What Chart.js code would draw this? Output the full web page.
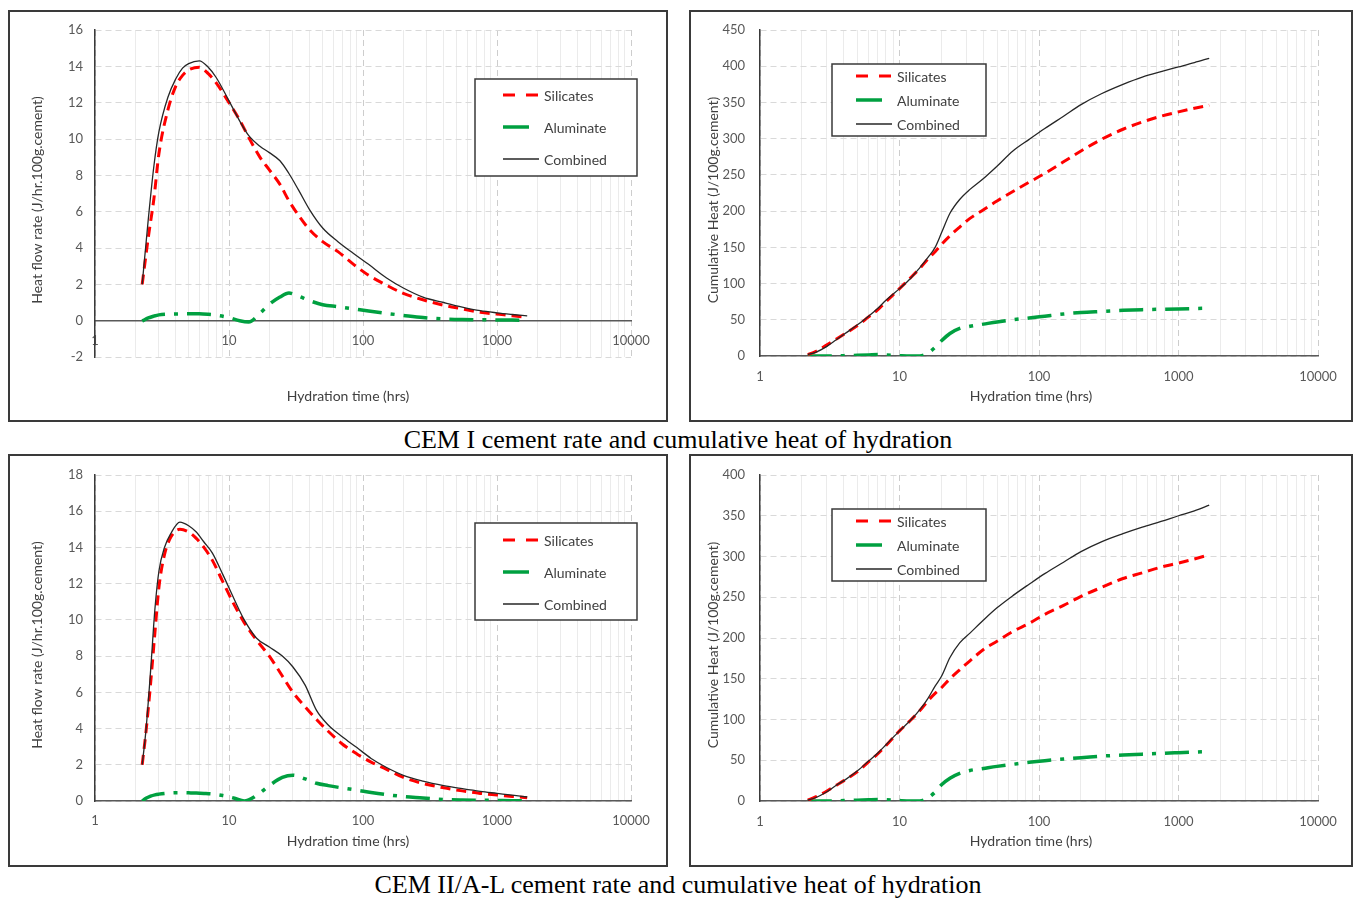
<!DOCTYPE html>
<html>
<head>
<meta charset="utf-8">
<script src="https://cdn.jsdelivr.net/npm/chart.js@4.4.1/dist/chart.umd.min.js"></script>
<style>
  html, body { margin: 0; padding: 0; background: #fff; }
  body { width: 1356px; height: 898px; position: relative; overflow: hidden; }
  .panel { position: absolute; border: 2px solid #3a3a3a; background: #fff; }
  .panel canvas { display: block; }
  .caption { position: absolute; left: 0; width: 1356px; text-align: center;
             font-family: "Liberation Serif", "Times New Roman", serif; font-size: 26px;
             line-height: 30px; color: #000; }
</style>
</head>
<body>
<div class="panel" style="left:8px;top:10px;"><canvas id="cem1Rate" width="656" height="408"></canvas></div>
<div class="panel" style="left:689px;top:10px;"><canvas id="cem1Heat" width="660" height="408"></canvas></div>
<div class="caption" style="top:425px;">CEM I cement rate and cumulative heat of hydration</div>
<div class="panel" style="left:8px;top:454px;"><canvas id="cem2Rate" width="656" height="409"></canvas></div>
<div class="panel" style="left:689px;top:454px;"><canvas id="cem2Heat" width="660" height="409"></canvas></div>
<div class="caption" style="top:870px;">CEM II/A-L cement rate and cumulative heat of hydration</div>

<script>
// ---- Data -------------------------------------------------------------
// Hydration time axis labels (log scale decades)
const timeDecades = [1, 10, 100, 1000, 10000];

// CEM I – heat flow rate (J/hr.100g.cement)
const cem1RateTime      = [2.25, 2.5, 2.75, 3, 3.5, 4, 4.5, 5, 6, 7, 8, 10, 12, 14, 17, 20, 24, 28, 33, 40, 50, 65, 85, 110, 150, 200, 280, 400, 550, 750, 1000, 1300, 1680];
const cem1RateSilicates = [2.0, 4.6, 6.7, 9.2, 11.6, 12.9, 13.5, 13.8, 13.95, 13.6, 13.1, 12.0, 11.05, 10.1, 9.0, 8.3, 7.5, 6.6, 5.8, 5.0, 4.35, 3.8, 3.1, 2.5, 1.95, 1.5, 1.15, 0.85, 0.65, 0.46, 0.36, 0.27, 0.18];
const cem1RateAluminate = [-0.02, 0.15, 0.25, 0.32, 0.36, 0.37, 0.38, 0.38, 0.38, 0.35, 0.3, 0.17, 0.0, -0.07, 0.4, 0.9, 1.3, 1.52, 1.35, 1.1, 0.88, 0.77, 0.65, 0.53, 0.4, 0.29, 0.17, 0.09, 0.06, 0.05, 0.04, 0.03, 0.02];
const cem1RateCombined  = [2.0, 5.6, 8.5, 10.4, 12.3, 13.3, 13.9, 14.15, 14.3, 13.95, 13.4, 12.1, 11.0, 10.2, 9.6, 9.25, 8.8, 8.1, 7.2, 6.1, 5.1, 4.35, 3.7, 3.1, 2.35, 1.8, 1.3, 1.0, 0.75, 0.55, 0.43, 0.34, 0.26];

// CEM I – cumulative heat (J/100g.cement)
const cem1HeatTime      = [2.2, 2.5, 3, 3.5, 4, 5, 6, 7, 8, 10, 12, 14, 16, 18, 20, 23, 27, 32, 40, 50, 65, 85, 110, 150, 200, 280, 400, 550, 750, 1000, 1300, 1660];
const cem1HeatSilicates = [2, 6, 15, 23, 30, 42, 54, 64, 75, 93, 108, 121, 134, 144, 154, 166, 178, 190, 202, 214, 227, 240, 252, 268, 283, 299, 313, 323, 331, 337, 342, 346];
const cem1HeatAluminate = [0, 0, 0, 0, 0.5, 1, 1.5, 2, 1.5, 0.5, 0, 0, 4, 12, 21, 31, 38, 41, 44, 47, 50, 52.5, 55, 58, 60, 61.5, 63, 64, 64.5, 65, 65.5, 66];
const cem1HeatCombined  = [2, 5, 13, 22, 30, 43, 55, 66, 77, 93, 107, 122, 136, 150, 170, 197, 216, 230, 245, 262, 283, 299, 314, 331, 347, 362, 375, 385, 392.5, 399, 405, 411];

// CEM II/A-L – heat flow rate (J/hr.100g.cement)
const cem2RateTime      = [2.25, 2.4, 2.6, 2.8, 3, 3.3, 3.7, 4.3, 5, 5.7, 6.5, 7.5, 9, 11, 13, 16, 20, 25, 30, 37, 45, 55, 70, 90, 115, 150, 200, 280, 400, 550, 750, 1000, 1300, 1680];
const cem2RateSilicates = [2.0, 3.8, 6.5, 9.3, 11.8, 13.6, 14.6, 15.0, 14.85, 14.5, 14.0, 13.3, 12.1, 10.8, 9.85, 8.9, 8.0, 6.9, 6.0, 5.2, 4.5, 3.85, 3.15, 2.6, 2.15, 1.75, 1.3, 0.97, 0.73, 0.56, 0.42, 0.33, 0.25, 0.18];
const cem2RateAluminate = [0, 0.15, 0.27, 0.34, 0.38, 0.42, 0.45, 0.46, 0.45, 0.44, 0.42, 0.39, 0.3, 0.15, 0.0, 0.3, 0.85, 1.3, 1.42, 1.22, 0.98, 0.85, 0.72, 0.6, 0.47, 0.35, 0.25, 0.17, 0.08, 0.05, 0.04, 0.03, 0.02, 0.0];
const cem2RateCombined  = [2.0, 3.9, 7.2, 10.6, 12.7, 14.0, 14.8, 15.4, 15.2, 14.85, 14.3, 13.7, 12.5, 11.1, 10.0, 9.0, 8.5, 8.0, 7.4, 6.4, 5.0, 4.2, 3.55, 2.95, 2.35, 1.85, 1.42, 1.1, 0.85, 0.68, 0.53, 0.42, 0.32, 0.22];

// CEM II/A-L – cumulative heat (J/100g.cement)
const cem2HeatTime      = [2.2, 2.5, 3, 3.5, 4, 5, 6, 7, 8, 10, 12, 14, 16, 18, 20, 23, 27, 32, 40, 50, 65, 85, 110, 150, 200, 280, 400, 550, 750, 1000, 1300, 1660];
const cem2HeatSilicates = [1, 5, 12, 19, 25, 36, 48, 58, 68, 86, 99, 111, 123, 132, 139, 150, 161, 172, 186, 196, 208, 218, 229, 240, 251, 262, 273, 280, 287, 292, 297, 302];
const cem2HeatAluminate = [0, 0, 0, 0, 0.5, 1, 1.5, 1.8, 1.5, 0.5, 0, 0, 4, 11, 20, 28, 34, 37.5, 40, 42.5, 45, 47.5, 49.5, 51.5, 53, 55, 56.5, 57.5, 58.5, 59.3, 60, 60.6];
const cem2HeatCombined  = [1, 4, 11, 19, 25, 37, 49, 59, 69, 86, 99, 112, 126, 141, 153, 176, 194, 206, 222, 237, 252, 266, 279, 293, 306, 318, 328, 336, 343, 350, 356, 363];

// ---- Styling ----------------------------------------------------------
const FONT = 'Lato, "Open Sans", sans-serif';
const TICK_COLOR = '#595959';
const TEXT_COLOR = '#404040';

const SERIES_STYLE = {
  silicates: { color: '#ff0000', width: 3,   dash: [10, 6] },
  aluminate: { color: '#00a040', width: 3.5, dash: [24, 9, 4, 9] },
  combined:  { color: '#262626', width: 1.3, dash: [] }
};
// legend sample strokes, in dataset order
const LEGEND_SAMPLES = [
  { len: 36, dash: [12, 11] },
  { len: 26, dash: [] },
  { len: 36, dash: [] }
];

// grid positions of the log axis: 1..9 in every decade
const gridTimes = [];
timeDecades.forEach((d, i) => {
  gridTimes.push(d);
  if (i < timeDecades.length - 1) for (let m = 2; m <= 9; m++) gridTimes.push(m * d);
});
const isDecade = v => timeDecades.includes(v);

function series(times, values) {
  return times.map((t, i) => ({ x: t, y: values[i] }));
}

// boxed legend drawn inside the plot area
const boxLegend = {
  id: 'boxLegend',
  afterDatasetsDraw(chart, args, o) {
    const ctx = chart.ctx;
    ctx.save();
    ctx.fillStyle = '#ffffff';
    ctx.fillRect(o.left, o.top, o.width, o.height);
    ctx.strokeStyle = '#3a3a3a';
    ctx.lineWidth = 1.5;
    ctx.strokeRect(o.left, o.top, o.width, o.height);
    ctx.font = '14px ' + FONT;
    ctx.textAlign = 'left';
    ctx.textBaseline = 'middle';
    chart.data.datasets.forEach((ds, i) => {
      const y = o.top + o.firstRow + i * o.rowGap;
      const s = LEGEND_SAMPLES[i];
      ctx.save();
      ctx.strokeStyle = ds.borderColor;
      ctx.lineWidth = ds.borderWidth;
      ctx.setLineDash(s.dash);
      ctx.beginPath();
      ctx.moveTo(o.sampleX, y);
      ctx.lineTo(o.sampleX + s.len, y);
      ctx.stroke();
      ctx.restore();
      ctx.fillStyle = TEXT_COLOR;
      ctx.fillText(ds.label, o.textX, y + 1);
    });
    ctx.restore();
  }
};

// axis titles placed in canvas coordinates
const axisCaptions = {
  id: 'axisCaptions',
  afterDraw(chart, args, o) {
    const ctx = chart.ctx;
    ctx.save();
    ctx.fillStyle = TEXT_COLOR;
    ctx.font = '14px ' + FONT;
    ctx.textAlign = 'center';
    ctx.textBaseline = 'middle';
    ctx.fillText(o.xText, o.xTitleX, o.xTitleY);
    ctx.translate(o.yTitleX, o.yTitleY);
    ctx.rotate(-Math.PI / 2);
    ctx.fillText(o.yText, 0, 0);
    ctx.restore();
  }
};

function buildChart(id, p) {
  const datasets = [
    { label: 'Silicates', data: series(p.time, p.silicates), order: 1,
      borderColor: SERIES_STYLE.silicates.color, borderWidth: SERIES_STYLE.silicates.width, borderDash: SERIES_STYLE.silicates.dash },
    { label: 'Aluminate', data: series(p.time, p.aluminate), order: 2,
      borderColor: SERIES_STYLE.aluminate.color, borderWidth: SERIES_STYLE.aluminate.width, borderDash: SERIES_STYLE.aluminate.dash },
    { label: 'Combined', data: series(p.time, p.combined), order: 0,
      borderColor: SERIES_STYLE.combined.color, borderWidth: SERIES_STYLE.combined.width, borderDash: SERIES_STYLE.combined.dash }
  ];
  return new Chart(document.getElementById(id), {
    type: 'line',
    data: { datasets },
    options: {
      responsive: false,
      animation: false,
      devicePixelRatio: 1,
      layout: { padding: { top: p.padTop, right: p.padRight, bottom: p.padBottom, left: 0 } },
      elements: {
        point: { radius: 0, hoverRadius: 0 },
        line: { cubicInterpolationMode: 'monotone', borderCapStyle: 'butt', fill: false }
      },
      plugins: {
        legend: { display: false },
        tooltip: { enabled: false },
        title: { display: false },
        boxLegend: p.legend,
        axisCaptions: p.captions
      },
      scales: {
        x: {
          type: 'logarithmic',
          min: 1,
          max: 10000,
          position: { y: 0 },
          afterBuildTicks: s => { s.ticks = gridTimes.map(v => ({ value: v })); },
          afterFit: s => { s.paddingLeft = 0; s.paddingRight = 0; },
          ticks: {
            autoSkip: false, maxRotation: 0, minRotation: 0,
            padding: p.xLabelPad, color: TICK_COLOR,
            font: { family: FONT, size: 13 },
            callback: v => (isDecade(v) ? String(v) : '')
          },
          grid: {
            drawTicks: false,
            lineWidth: 1,
            color: c => (c.tick && isDecade(c.tick.value) ? '#cdcdcd' : '#ebebeb')
          },
          border: {
            display: true, color: '#595959', width: 1.5,
            dash: c => (c.tick && isDecade(c.tick.value) ? [6, 4] : [])
          },
          title: { display: false }
        },
        y: {
          min: p.yMin,
          max: p.yMax,
          afterFit: s => { s.width = p.yWidth; s.paddingTop = 0; s.paddingBottom = 0; },
          ticks: {
            stepSize: p.yStep, padding: p.yLabelPad, color: TICK_COLOR,
            font: { family: FONT, size: 13 }
          },
          grid: { drawTicks: false, color: '#d9d9d9', lineWidth: 1 },
          border: { display: true, color: '#3a3a3a', width: 1.5, dash: [6, 4] },
          title: { display: false }
        }
      }
    },
    plugins: [boxLegend, axisCaptions]
  });
}

const X_TITLE = 'Hydration time (hrs)';
const RATE_TITLE = 'Heat flow rate (J/hr.100g.cement)';
const HEAT_TITLE = 'Cumulative Heat (J/100g.cement)';

buildChart('cem1Rate', {
  time: cem1RateTime, silicates: cem1RateSilicates, aluminate: cem1RateAluminate, combined: cem1RateCombined,
  yMin: -2, yMax: 16, yStep: 2,
  padTop: 18, padRight: 35, padBottom: 63, yWidth: 85, yLabelPad: 12, xLabelPad: 12,
  legend: { left: 465, top: 67, width: 162, height: 97, firstRow: 16, rowGap: 32, sampleX: 493, textX: 534 },
  captions: { xText: X_TITLE, xTitleX: 338, xTitleY: 384, yText: RATE_TITLE, yTitleX: 27, yTitleY: 188 }
});

buildChart('cem1Heat', {
  time: cem1HeatTime, silicates: cem1HeatSilicates, aluminate: cem1HeatAluminate, combined: cem1HeatCombined,
  yMin: 0, yMax: 450, yStep: 50,
  padTop: 18, padRight: 33, padBottom: 64, yWidth: 69, yLabelPad: 15, xLabelPad: 13,
  legend: { left: 141, top: 52, width: 154, height: 72, firstRow: 12, rowGap: 24, sampleX: 165, textX: 206 },
  captions: { xText: X_TITLE, xTitleX: 340, xTitleY: 384, yText: HEAT_TITLE, yTitleX: 22, yTitleY: 188 }
});

buildChart('cem2Rate', {
  time: cem2RateTime, silicates: cem2RateSilicates, aluminate: cem2RateAluminate, combined: cem2RateCombined,
  yMin: 0, yMax: 18, yStep: 2,
  padTop: 19, padRight: 35, padBottom: 64, yWidth: 85, yLabelPad: 12, xLabelPad: 12,
  legend: { left: 465, top: 67, width: 162, height: 97, firstRow: 17, rowGap: 32, sampleX: 493, textX: 534 },
  captions: { xText: X_TITLE, xTitleX: 338, xTitleY: 385, yText: RATE_TITLE, yTitleX: 27, yTitleY: 189 }
});

buildChart('cem2Heat', {
  time: cem2HeatTime, silicates: cem2HeatSilicates, aluminate: cem2HeatAluminate, combined: cem2HeatCombined,
  yMin: 0, yMax: 400, yStep: 50,
  padTop: 19, padRight: 33, padBottom: 64, yWidth: 69, yLabelPad: 15, xLabelPad: 13,
  legend: { left: 141, top: 53, width: 154, height: 72, firstRow: 12, rowGap: 24, sampleX: 165, textX: 206 },
  captions: { xText: X_TITLE, xTitleX: 340, xTitleY: 385, yText: HEAT_TITLE, yTitleX: 22, yTitleY: 189 }
});
</script>
</body>
</html>
